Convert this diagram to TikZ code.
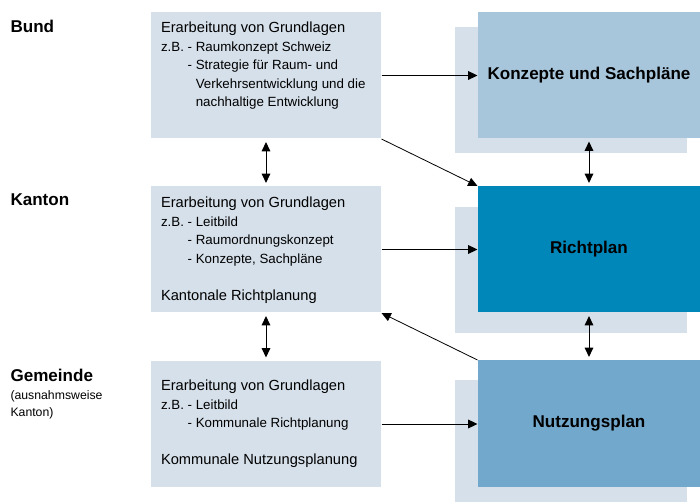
\documentclass[tikz,border=0pt]{standalone}
\usepackage{fontspec}
\setmainfont{Liberation Sans}
\usetikzlibrary{calc}
\usetikzlibrary{arrows.meta}
\tikzset{every picture/.style={line width=0.75pt}}
\definecolor{boxgrey}{HTML}{D6E0EA}
\definecolor{konzblue}{HTML}{A7C6DC}
\definecolor{richtblue}{HTML}{0087BA}
\definecolor{nutzblue}{HTML}{72A8CB}
\tikzset{
  levelbox/.style={fill=boxgrey, minimum width=172.5pt, minimum height=94.5pt, inner sep=0pt},
  planbox/.style={minimum width=166.5pt, minimum height=94.5pt, inner sep=0pt, font=\bfseries\fontsize{12.8}{15}\selectfont},
  planshadow/.style={fill=boxgrey, minimum width=174pt, minimum height=94.5pt, inner sep=0pt},
  boxtext/.style={anchor=north west, align=left, inner sep=0pt, font=\fontsize{10}{13.9}\selectfont},
  levellabel/.style={anchor=west, inner sep=0pt, font=\bfseries\fontsize{12.8}{15}\selectfont},
  notelabel/.style={anchor=west, align=left, inner sep=0pt, font=\fontsize{9.2}{12.75}\selectfont},
  flow/.style={-{Triangle[length=7pt,width=6.5pt]}},
  flowboth/.style={{Triangle[length=7pt,width=6.5pt]}-{Triangle[length=7pt,width=6.5pt]}, shorten <=2.3pt, shorten >=2.3pt},
}
\newcommand{\headline}[1]{{\fontsize{11}{13.9}\selectfont #1}}
\newcommand{\zbgap}{\hphantom{z.B.\ }}
\newcommand{\zbdash}{\hphantom{z.B.\ -\ }}

\begin{document}
\begin{tikzpicture}[x=0.75pt,y=0.75pt,yscale=-1,xscale=1]
\useasboundingbox (0,0) rectangle (700,502);

%Shape: Rectangle (shadows)
\node[planshadow] (konzshadow) at (571,90) {};
\node[planshadow] (richtshadow) at (571,270) {};
\node[planshadow, minimum height=91.5pt] (nutzshadow) at (571,441) {};

%Shape: Rectangle (plans)
\node[planbox, fill=konzblue] (konz) at (589,75) {Konzepte und Sachpläne};
\node[planbox, fill=richtblue] (richt) at (589,249.5) {Richtplan};
\node[planbox, fill=nutzblue] (nutz) at (589,423.5) {Nutzungsplan};

%Shape: Rectangle (levels)
\node[levelbox] (bund) at (266,75.5) {};
\node[levelbox] (kanton) at (266,249.5) {};
\node[levelbox] (gemeinde) at (266,424) {};

% Text Node
\node[boxtext] (bundtxt) at ($(bund.north west)+(10,9.6)$) {\headline{Erarbeitung von Grundlagen}\\z.B. - Raumkonzept Schweiz\\\zbgap- Strategie für Raum- und\\\zbdash Verkehrsentwicklung und die\\\zbdash nachhaltige Entwicklung};
% Text Node
\node[boxtext] (kantontxt) at ($(kanton.north west)+(10,10.6)$) {\headline{Erarbeitung von Grundlagen}\\z.B. - Leitbild\\\zbgap- Raumordnungskonzept\\\zbgap- Konzepte, Sachpläne\\[13.9pt]\headline{Kantonale Richtplanung}};
% Text Node
\node[boxtext] (gemeindetxt) at ($(gemeinde.north west)+(10,19.1)$) {\headline{Erarbeitung von Grundlagen}\\z.B. - Leitbild\\\zbgap- Kommunale Richtplanung\\[13.9pt]\headline{Kommunale Nutzungsplanung}};

% Text Node
\node[levellabel] (bundlbl) at (10,26) {Bund};
% Text Node
\node[levellabel] (kantonlbl) at (10,200) {Kanton};
% Text Node
\node[levellabel] (gemeindelbl) at (10,375) {Gemeinde};
% Text Node
\node[notelabel] (gemeindenote) at (10,404.5) {(ausnahmsweise\\Kanton)};

%Straight Lines
\draw[flow] (bund.east) -- (bund.east -| konz.west);
\draw[flow] (kanton.east) -- (kanton.east -| richt.west);
\draw[flow] (gemeinde.east) -- (gemeinde.east -| nutz.west);
\draw[flow, line width=0.6pt] (bund.south east) -- (richt.north west);
\draw[flow, line width=0.6pt] (nutz.north west) -- (kanton.south east);
%Straight Lines
\draw[flowboth] (bund.south) -- (kanton.north);
\draw[flowboth] (kanton.south) -- (gemeinde.north);
\draw[flowboth] (konz.south) -- (richt.north);
\draw[flowboth] (richt.south) -- (nutz.north);
\end{tikzpicture}
\end{document}
